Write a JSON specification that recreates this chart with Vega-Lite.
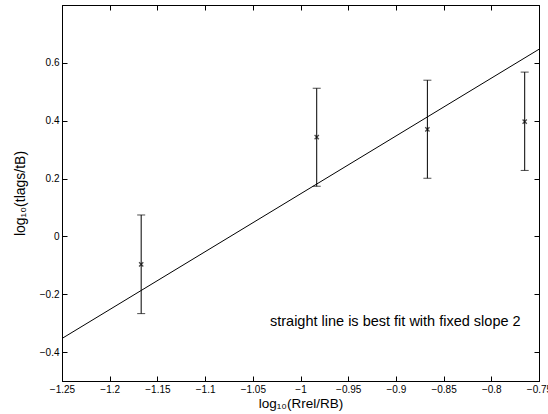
{
  "$schema": "https://vega.github.io/schema/vega-lite/v6.json",
  "width": 477,
  "height": 376,
  "autosize": "none",
  "padding": {"left": 62, "top": 5, "right": 9, "bottom": 33},
  "background": "white",
  "config": {
    "view": {"stroke": "black", "strokeWidth": 1},
    "font": "Liberation Sans",
    "axis": {
      "grid": false,
      "domainColor": "black",
      "tickColor": "black",
      "tickSize": -5,
      "labelFont": "Liberation Sans",
      "labelFontSize": 10,
      "labelColor": "black",
      "titleFont": "Liberation Sans",
      "titleFontSize": 14,
      "titleFontWeight": "normal",
      "titleColor": "black",
      "format": "~g"
    }
  },
  "datasets": {
    "pts": [
      {"x": -1.167, "y": -0.097, "lo": -0.267, "hi": 0.074},
      {"x": -0.983, "y": 0.343, "lo": 0.173, "hi": 0.512},
      {"x": -0.867, "y": 0.370, "lo": 0.201, "hi": 0.540},
      {"x": -0.765, "y": 0.397, "lo": 0.228, "hi": 0.568}
    ],
    "fit": [
      {"x": -1.25, "y": -0.353},
      {"x": -0.75, "y": 0.647}
    ],
    "note": [
      {"x": -1.032, "y": -0.296, "label": "straight line is best fit with fixed slope 2"}
    ]
  },
  "resolve": {"axis": {"x": "independent", "y": "independent"}},
  "layer": [
    {
      "data": {"name": "fit"},
      "mark": {"type": "line", "color": "black", "strokeWidth": 1, "clip": true},
      "encoding": {
        "x": {"field": "x", "type": "quantitative",
          "scale": {"domain": [-1.25, -0.75], "nice": false, "zero": false},
          "axis": {"orient": "bottom", "title": "log₁₀(Rrel/RB)", "format": "~g", "values": [-1.25, -1.2, -1.15, -1.1, -1.05, -1, -0.95, -0.9, -0.85, -0.8, -0.75], "labelPadding": 8, "titlePadding": 2, "titleFontSize": 13.5, "labelFlush": false, "labelOverlap": false}},
        "y": {"field": "y", "type": "quantitative",
          "scale": {"domain": [-0.5, 0.8], "nice": false, "zero": false},
          "axis": {"orient": "left", "title": "log₁₀(tlags/tB)", "format": "~g", "values": [-0.4, -0.2, 0, 0.2, 0.4, 0.6], "labelPadding": 8, "titlePadding": 12, "labelFlush": false}}
      }
    },
    {
      "data": {"name": "pts"},
      "mark": {"type": "rule", "color": "black", "strokeWidth": 1},
      "encoding": {
        "x": {"field": "x", "type": "quantitative", "scale": {"domain": [-1.25, -0.75], "nice": false, "zero": false},
          "axis": {"orient": "top", "title": null, "labels": false, "values": [-1.25, -1.2, -1.15, -1.1, -1.05, -1, -0.95, -0.9, -0.85, -0.8, -0.75]}},
        "y": {"field": "lo", "type": "quantitative", "scale": {"domain": [-0.5, 0.8], "nice": false, "zero": false},
          "axis": {"orient": "right", "title": null, "labels": false, "values": [-0.4, -0.2, 0, 0.2, 0.4, 0.6]}},
        "y2": {"field": "hi"}
      }
    },
    {
      "data": {"name": "pts"},
      "mark": {"type": "tick", "color": "black", "orient": "horizontal", "size": 8, "thickness": 1},
      "encoding": {
        "x": {"field": "x", "type": "quantitative", "axis": null},
        "y": {"field": "lo", "type": "quantitative", "axis": null}
      }
    },
    {
      "data": {"name": "pts"},
      "mark": {"type": "tick", "color": "black", "orient": "horizontal", "size": 8, "thickness": 1},
      "encoding": {
        "x": {"field": "x", "type": "quantitative", "axis": null},
        "y": {"field": "hi", "type": "quantitative", "axis": null}
      }
    },
    {
      "data": {"name": "pts"},
      "mark": {"type": "point", "shape": "M-1,-1L1,1M-1,1L1,-1", "filled": false, "stroke": "black", "strokeWidth": 1.3, "size": 18},
      "encoding": {
        "x": {"field": "x", "type": "quantitative", "axis": null},
        "y": {"field": "y", "type": "quantitative", "axis": null}
      }
    },
    {
      "data": {"name": "note"},
      "mark": {"type": "text", "align": "left", "baseline": "middle", "fontSize": 14.5, "font": "Liberation Sans", "color": "black"},
      "encoding": {
        "x": {"field": "x", "type": "quantitative", "axis": null},
        "y": {"field": "y", "type": "quantitative", "axis": null},
        "text": {"field": "label"}
      }
    }
  ]
}
